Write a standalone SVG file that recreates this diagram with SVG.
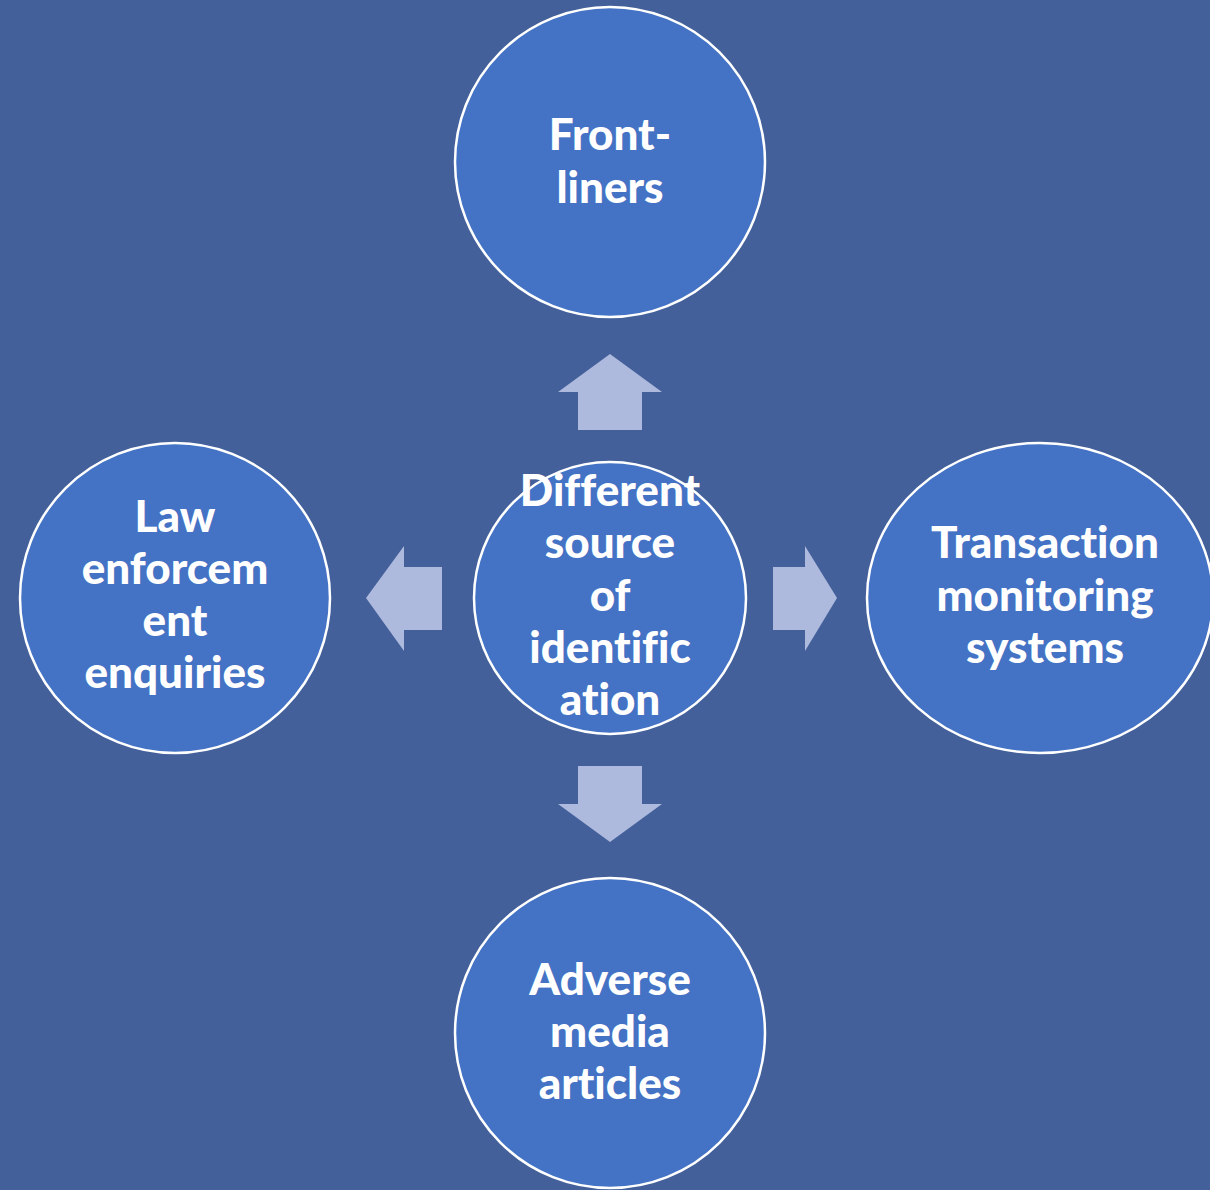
<svg xmlns="http://www.w3.org/2000/svg" width="1210" height="1190" viewBox="0 0 1210 1190">
<style>
.node{fill:#4472c4;stroke:#ffffff;stroke-width:2.5}
.lbl{font-family:Lato,"Liberation Sans",sans-serif;font-weight:900;font-size:44px;fill:#ffffff;text-anchor:middle;font-variant-ligatures:none}
.arr{fill:#adb9dd}
</style>
<rect width="1210" height="1190" fill="#43609a"/>
<g id="connectors">
<polygon class="arr" points="610,354 662,392 642,392 642,430 578,430 578,392 558,392"/>
<polygon class="arr" points="610,842 662,804 642,804 642,766 578,766 578,804 558,804"/>
<polygon class="arr" points="366,598 404,546 404,567 442,567 442,630 404,630 404,651"/>
<polygon class="arr" points="837,598 805,546 805,567 773,567 773,630 805,630 805,651"/>
</g>
<g id="node-top">
<circle class="node" cx="610" cy="162" r="155"/>
<text class="lbl"><tspan x="610" y="150">Front-</tspan><tspan x="610" y="203">liners</tspan></text>
</g>
<g id="node-left">
<circle class="node" cx="175" cy="598" r="155"/>
<text class="lbl"><tspan x="175" y="532">Law</tspan><tspan x="175" y="584">enforcem</tspan><tspan x="175" y="636">ent</tspan><tspan x="175" y="688">enquiries</tspan></text>
</g>
<g id="node-right">
<ellipse class="node" cx="1040" cy="598" rx="173" ry="155"/>
<text class="lbl"><tspan x="1045" y="558">Transaction</tspan><tspan x="1045" y="611">monitoring</tspan><tspan x="1045" y="663">systems</tspan></text>
</g>
<g id="node-bottom">
<circle class="node" cx="610" cy="1033" r="155"/>
<text class="lbl"><tspan x="610" y="995">Adverse</tspan><tspan x="610" y="1047">media</tspan><tspan x="610" y="1099">articles</tspan></text>
</g>
<g id="node-center">
<circle class="node" cx="610" cy="598" r="136"/>
<text class="lbl"><tspan x="610" y="506">Different</tspan><tspan x="610" y="558">source</tspan><tspan x="610" y="611">of</tspan><tspan x="610" y="663">identific</tspan><tspan x="610" y="715">ation</tspan></text>
</g>
</svg>
